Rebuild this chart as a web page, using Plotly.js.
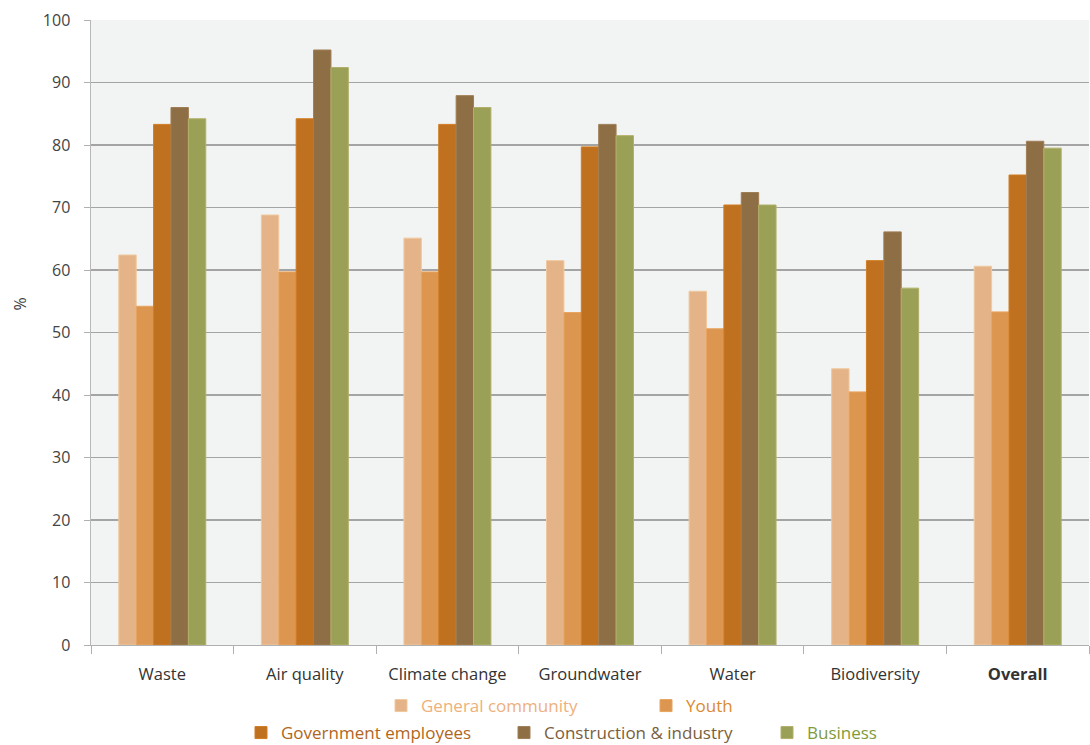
<!DOCTYPE html>
<html>
<head>
<meta charset="utf-8">
<script src="https://cdn.plot.ly/plotly-3.0.1.min.js"></script>
<style>html,body{margin:0;padding:0;background:#fff;}#chart{width:1090px;height:745px;}</style>
</head>
<body>
<div id="chart"></div>
<script>
const categories = ["Waste", "Air quality", "Climate change", "Groundwater", "Water", "Biodiversity", "Overall"];
const tickLabels = ["Waste", "Air quality", "Climate change", "Groundwater", "Water", "Biodiversity", "<b>Overall</b>"];
const seriesNames = ["General community", "Youth", "Government employees", "Construction & industry", "Business"];
const generalCommunity = [62.4, 68.8, 65.1, 61.5, 56.6, 44.2, 60.6];
const youth = [54.2, 59.7, 59.7, 53.2, 50.6, 40.5, 53.3];
const governmentEmployees = [83.3, 84.2, 83.3, 79.7, 70.4, 61.5, 75.2];
const constructionIndustry = [86.0, 95.2, 87.9, 83.3, 72.4, 66.1, 80.6];
const business = [84.2, 92.4, 86.0, 81.5, 70.4, 57.1, 79.5];

const values = [generalCommunity, youth, governmentEmployees, constructionIndustry, business];
const barColors = ["#e4b488", "#dc9650", "#bf711f", "#8e6e45", "#9aa055"];
const edgeColors = ["#f0c89e", "#e8a460", "#d07c22", "#a07e55", "#b2b06a"];
const textColors = ["#eeb07c", "#dc8a30", "#b0661c", "#7a5e3c", "#7f9a3a"];
const legendIds = ["legend", "legend", "legend2", "legend2", "legend2"];

const traces = values.map((v, i) => ({
  type: "bar",
  x: categories,
  y: v,
  name: '<span style="color:' + textColors[i] + '">' + seriesNames[i] + '</span>',
  legend: legendIds[i],
  marker: {color: barColors[i], line: {color: edgeColors[i], width: 1}},
  hoverinfo: "y"
}));

const font = "'Open Sans', Lato, sans-serif";

const layout = {
  width: 1090, height: 745,
  margin: {l: 91, r: 1, t: 20, b: 100, autoexpand: false},
  paper_bgcolor: "#ffffff",
  plot_bgcolor: "#f2f3f3",
  font: {family: font, size: 16, color: "#3a3a3a"},
  barmode: "group",
  bargap: 0.39,
  bargroupgap: 0,
  xaxis: {
    type: "category",
    tickvals: categories,
    ticktext: tickLabels,
    tickson: "boundaries",
    ticks: "outside", ticklen: 8, tickcolor: "#b0b0b0",
    ticklabelstandoff: 14,
    showline: true, linecolor: "#b0b0b0", linewidth: 1,
    showgrid: false,
    tickfont: {size: 16.5, color: "#333"}
  },
  yaxis: {
    range: [0, 100],
    dtick: 10,
    ticks: "outside", ticklen: 6, tickcolor: "#b0b0b0",
    ticklabelstandoff: 10,
    showline: true, linecolor: "#b8b8b8", linewidth: 1.5,
    gridcolor: "#a4a4a4", gridwidth: 1.5,
    zeroline: false,
    tickfont: {size: 16, color: "#444"}
  },
  annotations: [{
    text: "%", xref: "paper", yref: "paper", x: -0.071, y: 0.545,
    xanchor: "center", yanchor: "middle", textangle: -90, showarrow: false,
    font: {size: 16, color: "#444"}
  }],
  legend: {
    orientation: "h", xref: "container", yref: "container",
    x: 381/1090, xanchor: "left", y: 1 - 688/745, yanchor: "top",
    font: {size: 17}, bgcolor: "rgba(0,0,0,0)", itemwidth: 30,
    entrywidth: 220, entrywidthmode: "pixels"
  },
  legend2: {
    orientation: "h", xref: "container", yref: "container",
    x: 241/1090, xanchor: "left", y: 1 - 715/745, yanchor: "top",
    font: {size: 17}, bgcolor: "rgba(0,0,0,0)", itemwidth: 30,
    entrywidth: 218, entrywidthmode: "pixels"
  },
  showlegend: true
};

Plotly.newPlot("chart", traces, layout, {displayModeBar: false, staticPlot: true});
</script>
</body>
</html>
